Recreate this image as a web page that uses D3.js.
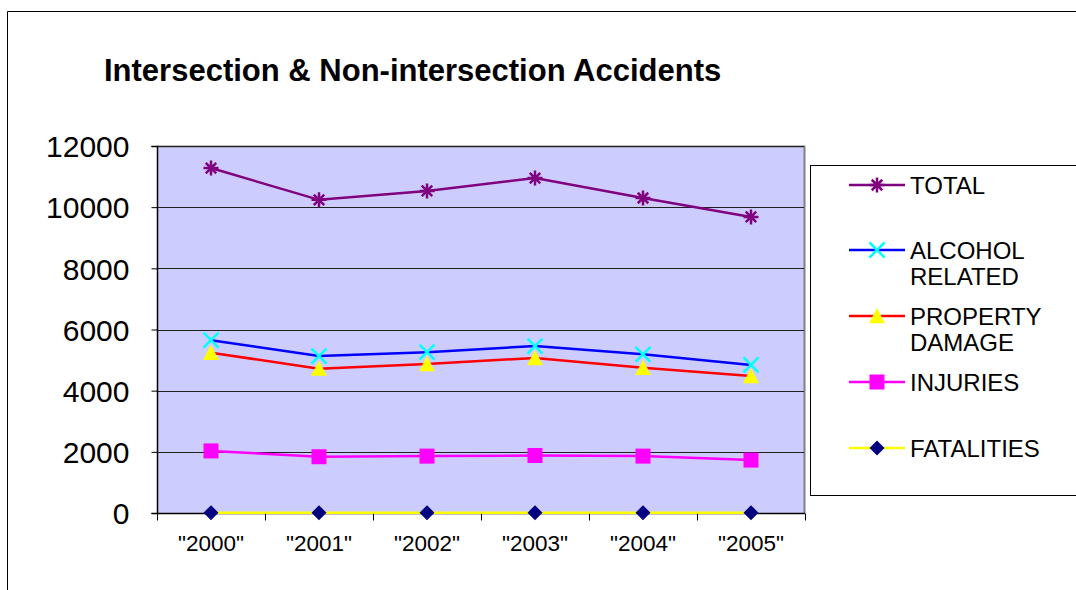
<!DOCTYPE html>
<html>
<head>
<meta charset="utf-8">
<script src="https://cdn.jsdelivr.net/npm/d3@7"></script>
<style>
	body { margin: 0; background: #fff; }
	svg { display: block; font-family: "Liberation Sans", Arial, sans-serif; }
	.title { font-weight: bold; font-size: 31px; }
	.y-axis text { font-size: 30px; }
	.x-axis text { font-size: 22.5px; }
	.legend-text { font-size: 24px; }
</style>
</head>
<body>
<script>
var years = ['"2000"', '"2001"', '"2002"', '"2003"', '"2004"', '"2005"'];
var yTicks = [0, 2000, 4000, 6000, 8000, 10000, 12000];

var total      = [11280, 10240, 10530, 10950, 10300, 9680];
var alcohol    = [5650, 5130, 5260, 5460, 5190, 4840];
var property   = [5240, 4720, 4870, 5070, 4750, 4480];
var injuries   = [2030, 1840, 1860, 1880, 1860, 1730];
var fatalities = [10, 8, 9, 10, 9, 8];

var seriesNames = [["TOTAL"], ["ALCOHOL", "RELATED"], ["PROPERTY", "DAMAGE"], ["INJURIES"], ["FATALITIES"]];
var seriesValues = [total, alcohol, property, injuries, fatalities];

var styles = [
	{ line: "#800080", fill: "#800080", stroke: "#800080", shape: "star" },
	{ line: "#0000FF", fill: "none", stroke: "#00FFFF", shape: "x" },
	{ line: "#FF0000", fill: "#FFFF00", stroke: "none", shape: "triangle" },
	{ line: "#FF00FF", fill: "#FF00FF", stroke: "none", shape: "square" },
	{ line: "#FFFF00", fill: "#000080", stroke: "none", shape: "diamond" }
];

var width = 1076, height = 590;
var plot = { left: 157, top: 146, right: 805, bottom: 513 };

var svg = d3.select("body").append("svg")
	.attr("width", width)
	.attr("height", height);

//Outer chart border
svg.append("path")
	.attr("d", "M7.5," + height + "V11.5H" + width)
	.style("fill", "none")
	.style("stroke", "#000")
	.style("stroke-width", 1);

//Title
svg.append("text")
	.attr("class", "title")
	.attr("x", 104)
	.attr("y", 81)
	.text("Intersection & Non-intersection Accidents");

var x = d3.scaleBand().domain(years).range([plot.left, plot.right]);
var y = d3.scaleLinear().domain([0, 12000]).range([plot.bottom, plot.top]);

//Plot background
svg.append("rect")
	.attr("x", plot.left)
	.attr("y", plot.top)
	.attr("width", plot.right - plot.left)
	.attr("height", plot.bottom - plot.top)
	.style("fill", "#CCCCFF");

//Gray border top & right
svg.append("path")
	.attr("d", "M" + plot.left + "," + (plot.top + 0.5) + "H" + (plot.right - 0.5) + "V" + plot.bottom)
	.style("fill", "none")
	.style("stroke", "#808080")
	.style("stroke-width", 2);

//Gridlines
svg.append("g").selectAll("line")
	.data(yTicks.slice(1))
	.enter().append("line")
	.attr("x1", plot.left)
	.attr("x2", plot.right - 1)
	.attr("y1", function(d) { return Math.round(y(d)) + 0.5; })
	.attr("y2", function(d) { return Math.round(y(d)) + 0.5; })
	.style("stroke", "#202020")
	.style("stroke-width", 1);

//Y axis
var yAxis = svg.append("g")
	.attr("class", "y-axis")
	.attr("transform", "translate(" + (plot.left + 0.5) + ",0)")
	.call(d3.axisLeft(y).tickValues(yTicks).tickFormat(d3.format("d")).tickSize(6).tickPadding(22));
yAxis.select(".domain").attr("d", "M-6," + (plot.top + 0.5) + "H0V" + (plot.bottom + 0.5) + "H-6").style("stroke", "#000").style("stroke-width", 1.5);
yAxis.selectAll("text").attr("fill", "#000").attr("dy", "0.36em");

//X axis
var xAxis = svg.append("g")
	.attr("class", "x-axis")
	.attr("transform", "translate(0," + (plot.bottom + 0.5) + ")")
	.call(d3.axisBottom(x).tickSize(0).tickPadding(22));
xAxis.select(".domain").remove();
xAxis.selectAll("text").attr("fill", "#000");
xAxis.append("line")
	.attr("x1", plot.left)
	.attr("x2", plot.right)
	.style("stroke", "#000")
	.style("stroke-width", 1.5);
xAxis.selectAll(".band-tick")
	.data(years.concat(["end"]))
	.enter().append("line")
	.attr("class", "band-tick")
	.attr("x1", function(d, i) { return Math.round(plot.left + i * x.step()) + 0.5; })
	.attr("x2", function(d, i) { return Math.round(plot.left + i * x.step()) + 0.5; })
	.attr("y1", 0)
	.attr("y2", 7)
	.style("stroke", "#000")
	.style("stroke-width", 1);

//Markers
function drawMarker(g, s, size) {
	var r = size / 2;
	if (s.shape === "star") {
		g.append("path")
			.attr("d", "M" + (-r) + ",0H" + r + "M" + (-r*0.7) + "," + (-r*0.7) + "L" + (r*0.7) + "," + (r*0.7) +
				"M" + (-r*0.7) + "," + (r*0.7) + "L" + (r*0.7) + "," + (-r*0.7) + "M0," + (-r) + "V" + r)
			.style("stroke", s.stroke).style("stroke-width", 2.5).style("fill", "none");
	} else if (s.shape === "x") {
		g.append("path")
			.attr("d", "M" + (-r) + "," + (-r) + "L" + r + "," + r + "M" + (-r) + "," + r + "L" + r + "," + (-r))
			.style("stroke", s.stroke).style("stroke-width", 2.5).style("fill", "none");
	} else if (s.shape === "triangle") {
		g.append("path")
			.attr("d", "M0," + (-r) + "L" + r + "," + (r*0.9) + "H" + (-r) + "Z")
			.style("fill", s.fill);
	} else if (s.shape === "square") {
		g.append("rect")
			.attr("x", -r).attr("y", -r).attr("width", size).attr("height", size)
			.style("fill", s.fill);
	} else if (s.shape === "diamond") {
		g.append("path")
			.attr("d", "M0," + (-r) + "L" + r + ",0L0," + r + "L" + (-r) + ",0Z")
			.style("fill", s.fill);
	}
}

var markerSizes = [15, 15, 16, 15, 15];
var line = d3.line()
	.x(function(d, i) { return x(years[i]) + x.bandwidth() / 2; })
	.y(function(d) { return y(d); });

//Draw in reverse so that TOTAL sits on top
seriesValues.slice().reverse().forEach(function(values, ri) {
	var i = seriesValues.length - 1 - ri;
	var s = styles[i];
	var seriesWrapper = svg.append("g").attr("class", "series-" + i);
	seriesWrapper.append("path")
		.datum(values)
		.attr("d", line)
		.style("fill", "none")
		.style("stroke", s.line)
		.style("stroke-width", 2.5);
	values.forEach(function(v, j) {
		var g = seriesWrapper.append("g")
			.attr("transform", "translate(" + (x(years[j]) + x.bandwidth() / 2) + "," + y(v) + ")");
		drawMarker(g, s, markerSizes[i]);
	});
});

/////////////////////// Legend //////////////////////////

var legendWrapper = svg.append("g").attr("class", "legendWrapper");
legendWrapper.append("rect")
	.attr("x", 810.5)
	.attr("y", 165.5)
	.attr("width", width)
	.attr("height", 330)
	.style("fill", "#fff")
	.style("stroke", "#000")
	.style("stroke-width", 1);

var legendRows = [185, 250, 316, 382, 448];
seriesNames.forEach(function(names, i) {
	var s = styles[i];
	var g = legendWrapper.append("g").attr("transform", "translate(0," + legendRows[i] + ")");
	g.append("line")
		.attr("x1", 849).attr("x2", 905)
		.style("stroke", s.line)
		.style("stroke-width", 2.5);
	var m = g.append("g").attr("transform", "translate(877,0)");
	drawMarker(m, s, markerSizes[i]);
	names.forEach(function(n, k) {
		g.append("text")
			.attr("class", "legend-text")
			.attr("x", 910)
			.attr("y", 8.5 + k * 26)
			.text(n);
	});
});
</script>
</body>
</html>
